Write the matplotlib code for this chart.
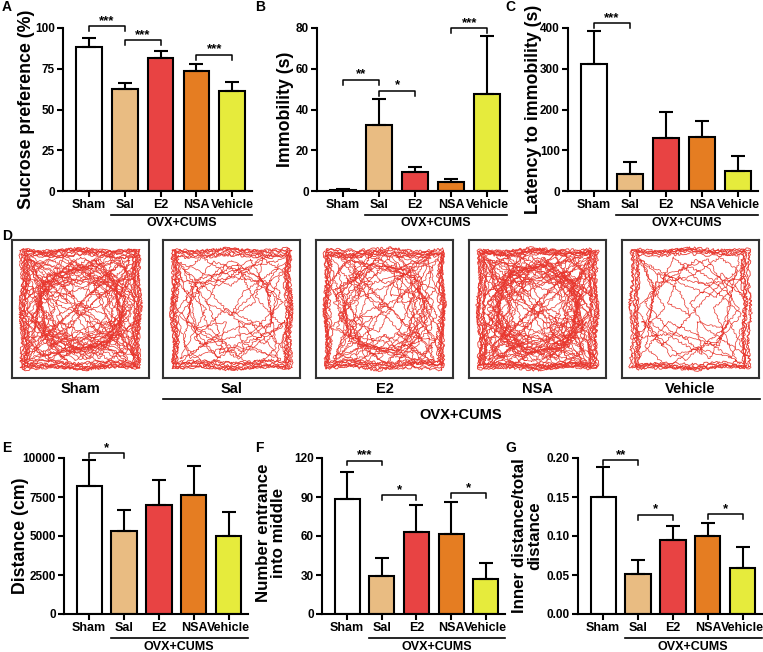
import numpy as np
import matplotlib
matplotlib.use("Agg")
import matplotlib.pyplot as plt
from matplotlib.lines import Line2D

plt.rcParams['font.family'] = ['Liberation Sans', 'DejaVu Sans']
plt.rcParams['font.weight'] = 'bold'

# ---- data ----
groups = ["Sham", "Sal", "E2", "NSA", "Vehicle"]
colors = ["#FFFFFF", "#E9BC82", "#E84343", "#E57D22", "#E6EB3C"]

sucrose_mean = [88.1, 62.5, 81.6, 73.4, 61.3]
sucrose_sem = [5.5, 3.5, 4.4, 4.6, 5.3]
immob_mean = [0.3, 32.3, 9.5, 4.6, 47.5]
immob_sem = [0.9, 12.7, 2.5, 1.4, 28.7]
latency_mean = [311, 42, 130, 133, 48]
latency_sem = [81, 30, 63, 38, 39]
distance_mean = [8180, 5330, 7000, 7600, 4970]
distance_sem = [1710, 1350, 1610, 1910, 1540]
entrance_mean = [88.2, 29.2, 63.4, 61.4, 26.9]
entrance_sem = [20.8, 13.5, 20.5, 25.0, 12.0]
inner_mean = [0.150, 0.051, 0.095, 0.100, 0.059]
inner_sem = [0.038, 0.018, 0.018, 0.017, 0.027]

# significance brackets: (group a, group b, level, stars)
sucrose_sig = [(0, 1, 101, "***"), (1, 2, 92.4, "***"), (3, 4, 83.6, "***")]
immob_sig = [(0, 1, 54.6, "**"), (1, 2, 49.2, "*"), (3, 4, 80, "***")]
latency_sig = [(0, 1, 412, "***")]
distance_sig = [(0, 1, 10320, "*")]
entrance_sig = [(0, 1, 118, "***"), (1, 2, 91.3, "*"), (3, 4, 93, "*")]
inner_sig = [(0, 1, 0.197, "**"), (1, 2, 0.127, "*"), (3, 4, 0.128, "*")]

# open field tracks (rough waypoints, unit square)
edge_x = [0.04, 0.25, 0.50, 0.75, 0.96, 0.95, 0.97, 0.94, 0.96, 0.70, 0.45, 0.20, 0.03, 0.05, 0.03, 0.06, 0.04]
edge_y = [0.04, 0.05, 0.03, 0.06, 0.04, 0.30, 0.55, 0.80, 0.96, 0.95, 0.97, 0.94, 0.96, 0.70, 0.45, 0.20, 0.04]
cross_x = [0.05, 0.30, 0.55, 0.90, 0.70, 0.95, 0.60, 0.35, 0.20, 0.06, 0.40, 0.50, 0.25, 0.08, 0.45, 0.80, 0.92, 0.65, 0.30, 0.10, 0.35, 0.75, 0.93]
cross_y = [0.10, 0.40, 0.30, 0.08, 0.50, 0.75, 0.70, 0.92, 0.60, 0.90, 0.65, 0.45, 0.20, 0.40, 0.08, 0.35, 0.50, 0.90, 0.78, 0.55, 0.30, 0.20, 0.93]
wander_x = [0.10, 0.20, 0.15, 0.40, 0.60, 0.55, 0.80, 0.85, 0.65, 0.45, 0.30, 0.50, 0.70, 0.90, 0.75, 0.50, 0.20, 0.12, 0.30, 0.55, 0.85, 0.95]
wander_y = [0.15, 0.35, 0.60, 0.75, 0.85, 0.60, 0.65, 0.40, 0.25, 0.15, 0.45, 0.55, 0.35, 0.20, 0.10, 0.25, 0.30, 0.80, 0.95, 0.80, 0.88, 0.60]

W, H = 763, 652
fig = plt.figure(figsize=(W / 100, H / 100), dpi=100)


def px(x, y, w, h):
    return [x / W, 1 - (y + h) / H, w / W, h / H]


def bar_panel(rect, means, sems, ymax, step, sig, fmt="{:g}"):
    ax = fig.add_axes(px(*rect))
    x = np.arange(len(groups))
    ax.bar(x, means, width=0.72, color=colors, edgecolor="black", linewidth=1.5, zorder=2)
    ax.errorbar(x, means, yerr=[np.zeros(len(x)), sems], fmt="none", ecolor="black",
                elinewidth=1.5, capsize=4.7, capthick=1.5, zorder=3)
    ax.set_xlim(-0.72, 4.55)
    ax.set_ylim(0, ymax)
    ticks = np.arange(0, ymax + step / 2, step)
    ax.set_yticks(ticks)
    ax.set_yticklabels([fmt.format(t) for t in ticks], fontsize=8.5)
    ax.set_xticks(x)
    ax.set_xticklabels(groups, fontsize=9)
    for s in ["top", "right"]:
        ax.spines[s].set_visible(False)
    for s in ["left", "bottom"]:
        ax.spines[s].set_linewidth(1.5)
    ax.tick_params(width=1.5, length=4, pad=2)

    drop = 0.03 * ymax
    for a, b, lev, txt in sig:
        ax.plot([a, a, b, b], [lev - drop, lev, lev, lev - drop], color="black", lw=1.1, clip_on=False)
        ax.annotate(txt, xy=((a + b) / 2, lev), xytext=(0, -0.5), textcoords="offset points",
                    ha="center", va="bottom", fontsize=9.5, annotation_clip=False)

    h = rect[3]
    tr = ax.get_xaxis_transform()
    ax.plot([0.62, 4.55], [-24 / h, -24 / h], transform=tr, clip_on=False, color="black", lw=1.2)
    ax.text(2.58, -32.5 / h, "OVX+CUMS", transform=tr, ha="center", va="center", fontsize=9)
    return ax


bar_panel((63, 28, 189, 163), sucrose_mean, sucrose_sem, 100, 25, sucrose_sig)
bar_panel((317, 28, 190, 163), immob_mean, immob_sem, 80, 20, immob_sig)
bar_panel((568, 28, 190, 163), latency_mean, latency_sem, 400, 100, latency_sig)
bar_panel((64, 458, 184, 156), distance_mean, distance_sem, 10000, 2500, distance_sig)
bar_panel((322, 458, 183, 156), entrance_mean, entrance_sem, 120, 30, entrance_sig)
bar_panel((578, 458, 184, 156), inner_mean, inner_sem, 0.20, 0.05, inner_sig, fmt="{:.2f}")

# y labels
fig.text(27 / W, 1 - 109 / H, "Sucrose preference (%)", rotation=90, ha="center", va="center", fontsize=12.8)
fig.text(285 / W, 1 - 109 / H, "Immobility (s)", rotation=90, ha="center", va="center", fontsize=12.8)
fig.text(533 / W, 1 - 109 / H, "Latency to immobility (s)", rotation=90, ha="center", va="center", fontsize=12.8)
fig.text(21 / W, 1 - 536 / H, "Distance (cm)", rotation=90, ha="center", va="center", fontsize=12.8)
fig.text(271 / W, 1 - 533 / H, "Number entrance\ninto middle", rotation=90, ha="center", va="center",
         fontsize=12.2, linespacing=1.0)
fig.text(527 / W, 1 - 536 / H, "Inner distance/total\ndistance", rotation=90, ha="center", va="center",
         fontsize=12.2, linespacing=1.0)

# panel letters
for letter, lx, ly in [("A", 2, 0), ("B", 255, 0), ("C", 505, 0), ("D", 2, 229),
                       ("E", 2, 441), ("F", 255, 441), ("G", 505, 441)]:
    fig.text(lx / W, 1 - ly / H, letter, ha="left", va="top", fontsize=10)

# ---- open field tracks ----
syms = [lambda x, y: (x, y), lambda x, y: (1 - x, 1 - y), lambda x, y: (y, x),
        lambda x, y: (1 - x, y), lambda x, y: (x, 1 - y), lambda x, y: (1 - y, 1 - x),
        lambda x, y: (1 - y, x), lambda x, y: (y, 1 - x)]
shrink = [1.0, 0.95, 0.91, 0.98, 0.93, 0.89, 0.99, 0.96]
n_edge = [8, 7, 7, 8, 6]
n_cross = [6, 2, 4, 7, 2]
n_wander = [5, 2, 3, 5, 1]
box_x = [12, 163, 316, 469, 622]
track_color = "#E8372E"

ex, ey = np.array(edge_x), np.array(edge_y)
cx, cy = np.array(cross_x), np.array(cross_y)
wx, wy = np.array(wander_x), np.array(wander_y)

for k, name in enumerate(groups):
    ax = fig.add_axes(px(box_x[k], 240, 137, 138))
    ax.set_xlim(-0.03, 1.03)
    ax.set_ylim(-0.03, 1.03)
    ax.set_xticks([])
    ax.set_yticks([])
    for s in ax.spines.values():
        s.set_linewidth(1.5)
        s.set_color("#333333")
    for i in range(n_edge[k]):
        sx, sy = syms[(i + k) % 8](0.5 + (ex - 0.5) * shrink[i], 0.5 + (ey - 0.5) * shrink[(i + 3) % 8])
        ln, = ax.plot(sx, sy, color=track_color, lw=0.6)
        ln.set_sketch_params(scale=1.3, length=8, randomness=12)
    for i in range(n_cross[k]):
        sx, sy = syms[(i + 2 * k) % 8](0.5 + (cx - 0.5) * shrink[(i + 5) % 8],
                                       0.5 + (cy - 0.5) * shrink[(i + 1) % 8])
        ln, = ax.plot(sx, sy, color=track_color, lw=0.5)
        ln.set_sketch_params(scale=1.0, length=10, randomness=10)
    for i in range(n_wander[k]):
        sx, sy = syms[(i * 3 + k) % 8](0.5 + (wx - 0.5) * shrink[(i + 2) % 8],
                                       0.5 + (wy - 0.5) * shrink[(i + 6) % 8])
        ln, = ax.plot(sx, sy, color=track_color, lw=0.5)
        ln.set_sketch_params(scale=1.0, length=10, randomness=10)
    fig.text((box_x[k] + 68.5) / W, 1 - 389 / H, name, ha="center", va="center", fontsize=10.5)

fig.add_artist(Line2D([163 / W, 760 / W], [1 - 399 / H, 1 - 399 / H], color="black", lw=1.2))
fig.text(461 / W, 1 - 415 / H, "OVX+CUMS", ha="center", va="center", fontsize=10.5)

fig.savefig("out.png", dpi=100)
